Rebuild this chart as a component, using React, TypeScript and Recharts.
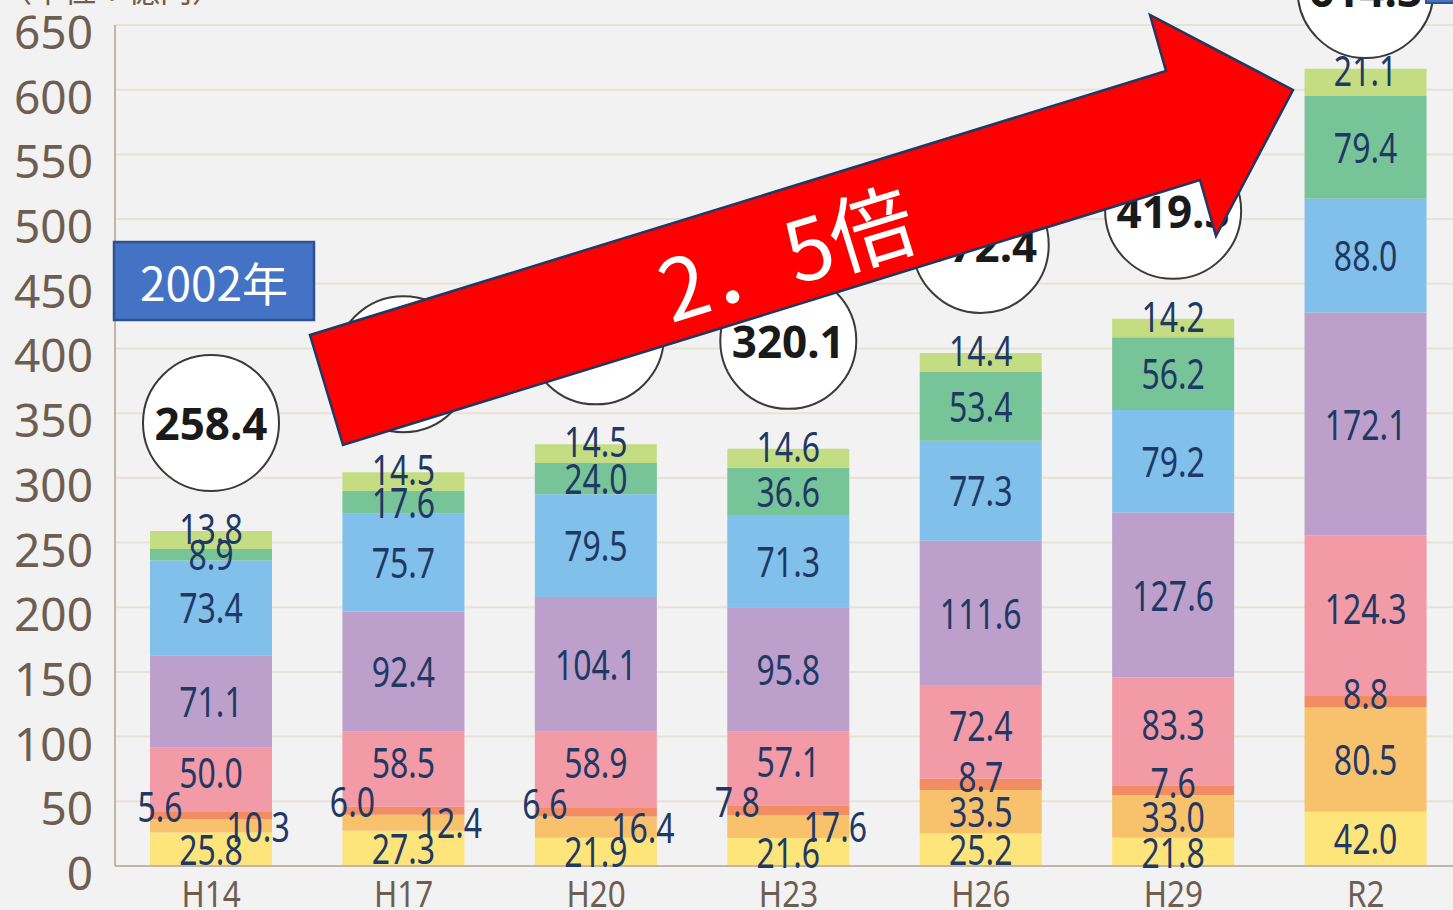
import React from "react";
import { BarChart, Bar, XAxis, YAxis, CartesianGrid, LabelList } from "recharts";

const years = ["H14", "H17", "H20", "H23", "H26", "H29", "R2"];
const yellow = [25.8, 27.3, 21.9, 21.6, 25.2, 21.8, 42.0];
const orange = [10.3, 12.4, 16.4, 17.6, 33.5, 33.0, 80.5];
const coral = [5.6, 6.0, 6.6, 7.8, 8.7, 7.6, 8.8];
const pink = [50.0, 58.5, 58.9, 57.1, 72.4, 83.3, 124.3];
const purple = [71.1, 92.4, 104.1, 95.8, 111.6, 127.6, 172.1];
const blue = [73.4, 75.7, 79.5, 71.3, 77.3, 79.2, 88.0];
const green = [8.9, 17.6, 24.0, 36.6, 53.4, 56.2, 79.4];
const lime = [13.8, 14.5, 14.5, 14.6, 14.4, 14.2, 21.1];
const totals = ["258.4", "304.4", "325.9", "320.1", "372.4", "419.3", "614.3"];
const yTicks = [0, 50, 100, 150, 200, 250, 300, 350, 400, 450, 500, 550, 600, 650];

const series = [
  { key: "yellow", values: yellow, color: "#FDE57C", kind: "center" },
  { key: "orange", values: orange, color: "#F8C16C", kind: "orange" },
  { key: "coral", values: coral, color: "#F28C63", kind: "coral" },
  { key: "pink", values: pink, color: "#F29AA6", kind: "pink" },
  { key: "purple", values: purple, color: "#BD9FCB", kind: "center" },
  { key: "blue", values: blue, color: "#80C0EA", kind: "center" },
  { key: "green", values: green, color: "#78C499", kind: "center" },
  { key: "lime", values: lime, color: "#C4DD82", kind: "lime" },
];

const data = years.map((year, i) => {
  const row: Record<string, any> = { year, total: totals[i] };
  series.forEach((s) => (row[s.key] = s.values[i]));
  return row;
});

const NAVY = "#1F3864";
const BROWN = "#6E5E52";

function valueText(cx: number, cy: number, v: number) {
  return (
    <text
      transform={`translate(${cx},${cy}) scale(0.78,1)`}
      textAnchor="middle"
      dominantBaseline="central"
      fontSize={41}
      fontFamily="Noto Sans"
      fill={NAVY}
    >
      {Number(v).toFixed(1)}
    </text>
  );
}

const makeLabel = (kind: string) => (props: any) => {
  const { x, y, width, height, value, index } = props;
  const cx = x + width / 2;
  const cy = y + height / 2;
  const small = orange[index] < 20;
  if (kind === "orange" && small) return valueText(x + width - 14, cy, value);
  if (kind === "coral") {
    if (small) return valueText(x + 10, cy - 9, value);
    return valueText(cx, cy - 8, value);
  }
  if (kind === "pink") return valueText(cx, cy - 7, value);
  if (kind === "lime") return valueText(cx, cy - 12, value);
  return valueText(cx, cy, value);
};

const TotalCircle = (props: any) => {
  const { x, y, width, value } = props;
  const cx = x + width / 2;
  const cy = Math.max(y - 108, -10);
  return (
    <g>
      <circle cx={cx} cy={cy} r={68} fill="#FFFFFF" stroke="#3A3A3A" strokeWidth={2} />
      <text
        x={cx}
        y={cy}
        textAnchor="middle"
        dominantBaseline="central"
        fontSize={44}
        fontWeight="bold"
        fontFamily="Noto Sans"
        fill="#1A1A1A"
      >
        {value}
      </text>
    </g>
  );
};

const YTick = (props: any) => {
  const { x, y, payload } = props;
  return (
    <text x={x} y={y + 6} textAnchor="end" dominantBaseline="central" fontSize={46} fontFamily="Noto Sans" fill={BROWN}>
      {payload.value}
    </text>
  );
};

const XTick = (props: any) => {
  const { x, y, payload } = props;
  return (
    <text
      transform={`translate(${x},${y + 33}) scale(0.85,1)`}
      textAnchor="middle"
      fontSize={37}
      fontFamily="Noto Sans"
      fill={BROWN}
    >
      {payload.value}
    </text>
  );
};

export default function App() {
  return (
    <div
      style={{
        position: "absolute",
        left: 0,
        top: 0,
        width: 1453,
        height: 910,
        overflow: "hidden",
        background: "#F2F2F2",
      }}
    >
      <BarChart width={1462} height={910} data={data} margin={{ top: 25, right: 0, left: 0, bottom: 0 }} barSize={122}>
        <CartesianGrid vertical={false} stroke="#E7E2D6" strokeWidth={2} />
        <XAxis
          dataKey="year"
          height={44}
          axisLine={{ stroke: "#BFB5A9", strokeWidth: 2 }}
          tickLine={false}
          tick={<XTick />}
          interval={0}
        />
        <YAxis
          width={115}
          domain={[0, 650]}
          ticks={yTicks}
          axisLine={{ stroke: "#BFB5A9", strokeWidth: 2 }}
          tickLine={false}
          tickSize={0}
          tickMargin={22}
          tick={<YTick />}
        />
        {series.map((s) => (
          <Bar key={s.key} dataKey={s.key} stackId="a" fill={s.color} isAnimationActive={false}>
            <LabelList dataKey={s.key} content={makeLabel(s.kind)} />
            {s.key === "lime" ? <LabelList dataKey="total" content={TotalCircle} /> : null}
          </Bar>
        ))}
      </BarChart>
      <svg
        width={1453}
        height={910}
        style={{ position: "absolute", left: 0, top: 0, pointerEvents: "none" }}
      >
        <text x={0} y={2} fontSize={32} fontFamily="Noto Sans CJK JP" fill={BROWN}>
          （単位：億円）
        </text>
        <rect x={1426} y={-60} width={80} height={63} fill="#4472C4" stroke="#2F528F" strokeWidth={2} />
        <rect x={114} y={242} width={200} height={78} fill="#4472C4" stroke="#2F528F" strokeWidth={2.5} />
        <text
          x={214}
          y={281}
          textAnchor="middle"
          dominantBaseline="central"
          fontSize={46}
          fontFamily="Noto Sans CJK JP"
          fill="#FFFFFF"
        >
          2002年
        </text>
        <polygon
          points="310,335 1166,71 1150,15 1293,90 1216,236 1200,180 343,445"
          fill="#FF0000"
          stroke="#1F3864"
          strokeWidth={2.5}
          strokeLinejoin="miter"
        />
        <text
          transform="translate(785,250) rotate(-17.1)"
          textAnchor="middle"
          dominantBaseline="central"
          fontSize={84}
          fontFamily="Noto Sans CJK JP"
          fill="#FFFFFF"
        >
          2．5倍
        </text>
      </svg>
    </div>
  );
}
